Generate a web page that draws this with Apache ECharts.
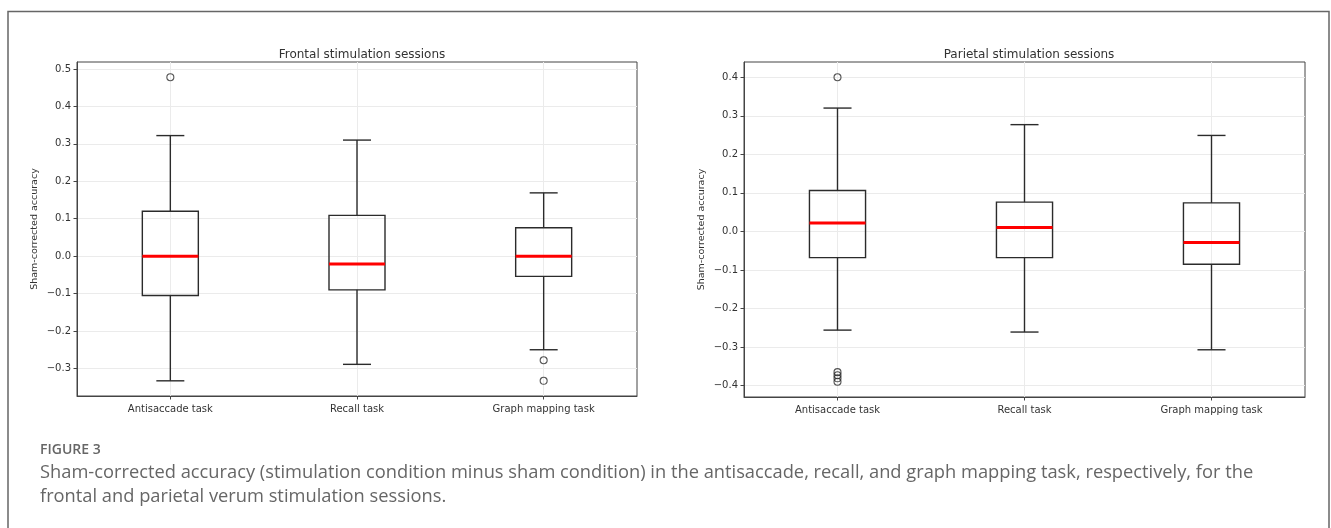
<!DOCTYPE html>
<html>
<head>
<meta charset="utf-8">
<script src="https://cdn.jsdelivr.net/npm/echarts@6/dist/echarts.min.js"></script>
<style>
  html, body { margin: 0; padding: 0; background: #fff; }
  #chart { width: 1331px; height: 528px; }
</style>
</head>
<body>
<div id="chart"></div>
<script>
// categories on both panels
const categories = ['Antisaccade task', 'Recall task', 'Graph mapping task']

// box stats per task: [whisker low, Q1, median, Q3, whisker high]
const frontalBoxes = [
  [-0.333, -0.105, 0.0, 0.120, 0.322],
  [-0.289, -0.090, -0.021, 0.109, 0.310],
  [-0.250, -0.054, 0.0, 0.076, 0.169]
]
const frontalOutliers = [[0, 0.478], [2, -0.278], [2, -0.333]]

const parietalBoxes = [
  [-0.256, -0.068, 0.022, 0.106, 0.320],
  [-0.261, -0.068, 0.010, 0.076, 0.277],
  [-0.307, -0.085, -0.029, 0.074, 0.249]
]
const parietalOutliers = [[0, 0.400], [0, -0.365], [0, -0.373], [0, -0.381], [0, -0.390]]

// tick labels
const frontalTicks = [-0.3, -0.2, -0.1, 0.0, 0.1, 0.2, 0.3, 0.4, 0.5]
const parietalTicks = [-0.4, -0.3, -0.2, -0.1, 0.0, 0.1, 0.2, 0.3, 0.4]
const catTicks = [1, 2, 3]

const chart = echarts.init(document.getElementById('chart'))

// matplotlib style 5% margins
const pad = (lo, hi) => { const r = hi - lo; return [lo - r * 0.05, hi + r * 0.05] }
const fRange = pad(-0.333, 0.478)
const pRange = pad(-0.390, 0.400)

const fmt = v => (v < 0 ? '\u2212' : '') + Math.abs(v).toFixed(1)

const axisText = { color: '#333', fontFamily: 'DejaVu Sans', fontSize: 10 }

function xAxis (gridIndex) {
  return {
    type: 'value', gridIndex, min: 0.5, max: 3.5,
    axisLine: { show: true, onZero: false, lineStyle: { color: '#444' } },
    axisTick: { show: true, length: 3.5, customValues: catTicks, lineStyle: { color: '#444' } },
    axisLabel: { ...axisText, margin: 8, customValues: catTicks, formatter: v => categories[Math.round(v) - 1] || '' },
    splitLine: { show: true, lineStyle: { color: '#ebebeb', width: 1 } }
  }
}

function yAxis (gridIndex, range, ticks) {
  return {
    type: 'value', gridIndex, min: range[0], max: range[1],
    name: 'Sham-corrected accuracy', nameLocation: 'middle', nameGap: 37, nameRotate: 90,
    nameTextStyle: { color: '#333', fontFamily: 'DejaVu Sans', fontSize: 9.5 },
    axisLine: { show: true, lineStyle: { color: '#444' } },
    axisTick: { show: true, length: 3.5, customValues: ticks, lineStyle: { color: '#444' } },
    axisLabel: { ...axisText, margin: 6, customValues: ticks, formatter: fmt },
    splitLine: { show: true, lineStyle: { color: '#ebebeb', width: 1 } }
  }
}

function renderBox (params, api) {
  const x = api.value(0)
  const lo = api.coord([x, api.value(1)])
  const q1 = api.coord([x, api.value(2)])
  const med = api.coord([x, api.value(3)])
  const q3 = api.coord([x, api.value(4)])
  const hi = api.coord([x, api.value(5)])
  const w = api.size([0.3, 0])[0]
  const cx = lo[0]
  const line = { stroke: '#2b2b2b', lineWidth: 1.4 }
  return {
    type: 'group',
    children: [
      { type: 'line', shape: { x1: cx, y1: q3[1], x2: cx, y2: hi[1] }, style: line },
      { type: 'line', shape: { x1: cx, y1: q1[1], x2: cx, y2: lo[1] }, style: line },
      { type: 'line', shape: { x1: cx - w / 4, y1: hi[1], x2: cx + w / 4, y2: hi[1] }, style: line },
      { type: 'line', shape: { x1: cx - w / 4, y1: lo[1], x2: cx + w / 4, y2: lo[1] }, style: line },
      { type: 'rect', shape: { x: cx - w / 2, y: q3[1], width: w, height: q1[1] - q3[1] }, style: { ...line, fill: 'none' } },
      { type: 'line', shape: { x1: cx - w / 2, y1: med[1], x2: cx + w / 2, y2: med[1] }, style: { stroke: '#ff0000', lineWidth: 3 } }
    ]
  }
}

function boxSeries (idx, boxes) {
  return {
    type: 'custom', xAxisIndex: idx, yAxisIndex: idx,
    renderItem: renderBox,
    encode: { x: 0, y: [1, 2, 3, 4, 5] },
    data: boxes.map((b, i) => [i + 1, ...b]),
    z: 3
  }
}

function outlierSeries (idx, pts) {
  return {
    type: 'scatter', xAxisIndex: idx, yAxisIndex: idx,
    symbol: 'circle', symbolSize: 7,
    itemStyle: { color: 'rgba(0,0,0,0)', borderColor: '#2b2b2b', borderWidth: 1.1 },
    data: pts.map(p => [p[0] + 1, p[1]]),
    z: 4
  }
}

const titleStyle = { color: '#333', fontFamily: 'DejaVu Sans', fontSize: 12, fontWeight: 'normal' }
const captionColor = '#666'

chart.setOption({
  animation: false,
  backgroundColor: '#fff',
  title: [
    { text: 'Frontal stimulation sessions', left: 357, top: 44, textAlign: 'center', textStyle: titleStyle },
    { text: 'Parietal stimulation sessions', left: 1024, top: 44, textAlign: 'center', textStyle: titleStyle }
  ],
  grid: [
    { left: 77, top: 62, width: 560, height: 334, show: true, borderColor: '#444', borderWidth: 1, backgroundColor: 'transparent' },
    { left: 744, top: 62, width: 561, height: 335, show: true, borderColor: '#444', borderWidth: 1, backgroundColor: 'transparent' }
  ],
  xAxis: [xAxis(0), xAxis(1)],
  yAxis: [yAxis(0, fRange, frontalTicks), yAxis(1, pRange, parietalTicks)],
  series: [
    boxSeries(0, frontalBoxes),
    outlierSeries(0, frontalOutliers),
    boxSeries(1, parietalBoxes),
    outlierSeries(1, parietalOutliers)
  ],
  graphic: [
    { type: 'rect', shape: { x: 8, y: 11.5, width: 1321, height: 600 }, style: { fill: 'none', stroke: '#666', lineWidth: 1.5 }, silent: true },
    { type: 'text', left: 40, top: 443, style: { text: 'FIGURE 3', fill: captionColor, font: '600 14px "Open Sans"' } },
    { type: 'text', left: 40, top: 464, style: { text: 'Sham-corrected accuracy (stimulation condition minus sham condition) in the antisaccade, recall, and graph mapping task, respectively, for the', fill: captionColor, font: '18.3px "Open Sans"' } },
    { type: 'text', left: 40, top: 488, style: { text: 'frontal and parietal verum stimulation sessions.', fill: captionColor, font: '18.3px "Open Sans"' } }
  ]
})
</script>
</body>
</html>
